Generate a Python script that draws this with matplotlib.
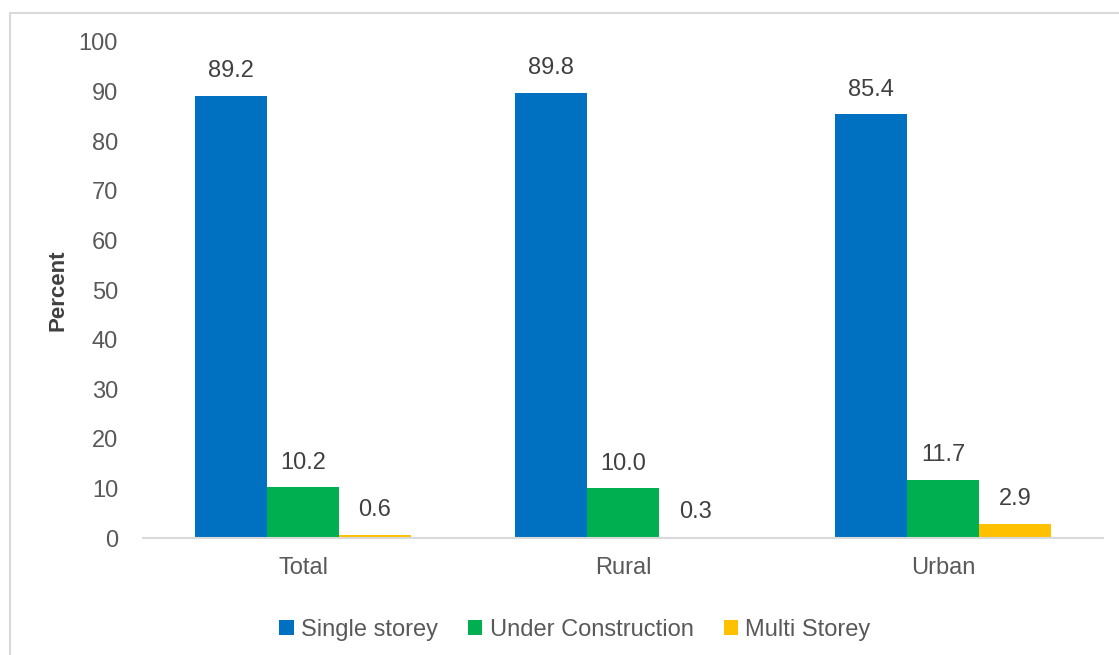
import numpy as np
import matplotlib.pyplot as plt
from matplotlib.patches import Rectangle

categories = ['Total', 'Rural', 'Urban']
single_storey = [89.2, 89.8, 85.4]
under_construction = [10.2, 10.0, 11.7]
multi_storey = [0.6, 0.3, 2.9]
series_names = ['Single storey', 'Under Construction', 'Multi Storey']
colors = ['#0070C0', '#00B050', '#FFC000']

plt.rcParams['font.family'] = ['Liberation Sans', 'DejaVu Sans']
txt = '#595959'

fig = plt.figure(figsize=(11.19, 6.55), dpi=100)
ax = fig.add_axes([0.1278, 0.1786, 0.8579, 0.7573])

# light frame around the chart area (cut off at right/bottom like the source)
fig.patches.append(Rectangle((10 / 1119, -0.2), 1.2, 1.2 - 13 / 655,
                             transform=fig.transFigure, fill=False,
                             edgecolor='#D9D9D9', linewidth=1.5))

x = np.arange(len(categories))
w = 0.225
for k, (vals, name, c) in enumerate(zip([single_storey, under_construction, multi_storey],
                                        series_names, colors)):
    pos = x + (k - 1) * w
    ax.bar(pos, vals, width=w, color=c, label=name)
    for xp, v in zip(pos, vals):
        ax.annotate(f'{v:.1f}', (xp, v), xytext=(0, 10), textcoords='offset points',
                    ha='center', va='bottom', fontsize=17, color='#404040')

ax.set_xlim(-0.5, 2.5)
ax.set_ylim(0, 100)
ax.set_yticks(range(0, 101, 10))
ax.set_xticks(x)
ax.set_xticklabels(categories)
ax.tick_params(axis='both', length=0, labelsize=17, colors=txt)
ax.tick_params(axis='y', pad=18)
ax.tick_params(axis='x', pad=14)
for s in ['top', 'right', 'left']:
    ax.spines[s].set_visible(False)
ax.spines['bottom'].set_color('#D9D9D9')
ax.spines['bottom'].set_linewidth(1.5)

ax.set_ylabel('Percent', fontsize=16, fontweight='bold', color='#404040', labelpad=7)

ax.legend(loc='center', bbox_to_anchor=(0.45, -0.185), ncol=3, frameon=False,
          fontsize=17, handlelength=0.6, handleheight=0.6, handletextpad=0.3,
          columnspacing=1.3, labelcolor=txt)

fig.savefig('out.png', dpi=100)
